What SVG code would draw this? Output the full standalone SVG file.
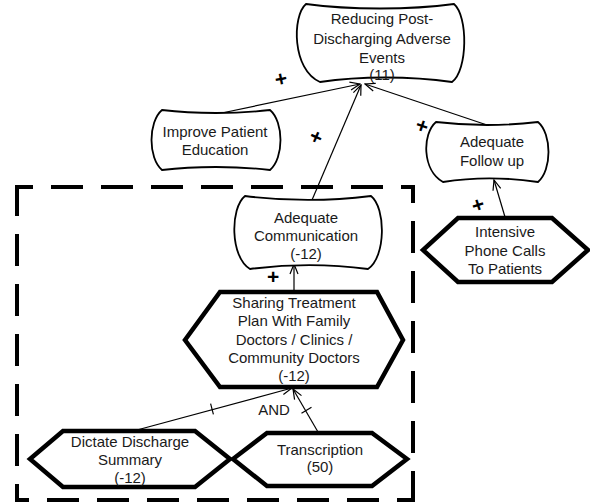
<svg xmlns="http://www.w3.org/2000/svg" width="590" height="502" viewBox="0 0 590 502">
  <defs>
    <marker id="arrow" viewBox="0 0 12 10" refX="11" refY="5" markerWidth="12" markerHeight="10" markerUnits="userSpaceOnUse" orient="auto">
      <path d="M1,1 L11,5 L1,9" fill="none" stroke="#000" stroke-width="1.2"/>
    </marker>
  </defs>
  <style>
    text { font-family: "Liberation Sans", Arial, sans-serif; font-size: 15px; fill: #1a1a1a; text-anchor: middle; }
    .soft { fill: #fff; stroke: #000; stroke-width: 1.8; stroke-linejoin: round; }
    .task { fill: #fff; stroke: #000; stroke-width: 4.5; stroke-linejoin: miter; }
    .link { fill: none; stroke: #000; stroke-width: 1.2; marker-end: url(#arrow); }
    .tick { stroke: #000; stroke-width: 1.2; }
    .plus { font-size: 21px; font-weight: bold; fill: #000; }
    .boundary { stroke: #000; stroke-width: 4; stroke-dasharray: 28 22; stroke-dashoffset: 14; stroke-linecap: square; fill: none; }
  </style>

  <!-- actor boundary (dashed) -->
  <g id="boundary">
    <line class="boundary" x1="17" y1="187" x2="413" y2="187"/>
    <line class="boundary" x1="413" y1="187" x2="413" y2="500"/>
    <line class="boundary" x1="413" y1="500" x2="17" y2="500"/>
    <line class="boundary" x1="17" y1="500" x2="17" y2="187"/>
  </g>

  <!-- connectors -->
  <g id="connectors">
    <line class="link" x1="217" y1="114" x2="360" y2="84"/>
    <line class="link" x1="312" y1="200" x2="361" y2="85"/>
    <line class="link" x1="487" y1="125" x2="365" y2="84"/>
    <line class="link" x1="505" y1="217" x2="494" y2="180"/>
    <line class="link" x1="294" y1="290" x2="294" y2="264"/>
    <line class="link" x1="137" y1="430" x2="292" y2="388"/>
    <line class="link" x1="318" y1="432" x2="293" y2="389"/>
    <!-- decomposition ticks -->
    <line class="tick" x1="210.6" y1="403.7" x2="213.4" y2="414.3"/>
    <line class="tick" x1="301.5" y1="413.2" x2="311.5" y2="407.2"/>
    <!-- contribution labels -->
    <g transform="translate(281,79) rotate(-11)"><text class="plus" x="0" y="7">+</text></g>
    <g transform="translate(316,137) rotate(-66)"><text class="plus" x="0" y="7">+</text></g>
    <g transform="translate(422,126) rotate(19)"><text class="plus" x="0" y="7">+</text></g>
    <g transform="translate(478,205) rotate(72)"><text class="plus" x="0" y="7">+</text></g>
    <g transform="translate(273,277)"><text class="plus" x="0" y="7">+</text></g>
    <text x="274" y="415">AND</text>
  </g>

  <!-- softgoals -->
  <g id="reducing-adverse-events">
    <path class="soft" d="M306,4 C350,10 410,10 454,4 C468,16 468,70 452,82 C410,76 360,76 320,82 C292,70 292,16 306,4 Z"/>
    <text x="382" y="24">Reducing Post-</text>
    <text x="382" y="44">Discharging Adverse</text>
    <text x="382" y="63">Events</text>
    <text x="382" y="80">(11)</text>
  </g>

  <g id="improve-patient-education">
    <path class="soft" d="M162,110 C195,114 237,114 270,110 C284,122 284,158 270,170 C237,166 195,166 162,170 C148,158 148,122 162,110 Z"/>
    <text x="215" y="137">Improve Patient</text>
    <text x="215" y="155">Education</text>
  </g>

  <g id="adequate-follow-up">
    <path class="soft" d="M436,122 C470,126 504,126 538,122 C552,134 552,170 538,182 C504,177 474,177 443,182 C422,170 422,134 436,122 Z"/>
    <text x="492" y="147">Adequate</text>
    <text x="492" y="166">Follow up</text>
  </g>

  <g id="adequate-communication">
    <path class="soft" d="M245,196 C285,201 331,201 371,196 C386,208 386,257 368,269 C331,264 288,264 250,269 C230,257 230,208 245,196 Z"/>
    <text x="306" y="223">Adequate</text>
    <text x="306" y="241">Communication</text>
    <text x="306" y="259">(-12)</text>
  </g>

  <!-- tasks -->
  <g id="intensive-phone-calls">
    <polygon class="task" points="458,218 552,218 588,250 552,282 458,282 423,250"/>
    <text x="505" y="237">Intensive</text>
    <text x="505" y="256">Phone Calls</text>
    <text x="505" y="274">To Patients</text>
  </g>

  <g id="sharing-treatment-plan">
    <polygon class="task" points="220,292 377,292 403,340 377,387 220,387 185,340"/>
    <text x="294" y="308">Sharing Treatment</text>
    <text x="294" y="326">Plan With Family</text>
    <text x="294" y="345">Doctors / Clinics /</text>
    <text x="294" y="363">Community Doctors</text>
    <text x="294" y="381">(-12)</text>
  </g>

  <g id="dictate-discharge-summary">
    <polygon class="task" points="63,431 195,431 230,459 195,487 63,487 30,459"/>
    <text x="130" y="447">Dictate Discharge</text>
    <text x="130" y="465">Summary</text>
    <text x="130" y="483">(-12)</text>
  </g>

  <g id="transcription">
    <polygon class="task" points="267,433 372,433 407,459 372,486 267,486 233,459"/>
    <text x="320" y="455">Transcription</text>
    <text x="320" y="472">(50)</text>
  </g>
</svg>
